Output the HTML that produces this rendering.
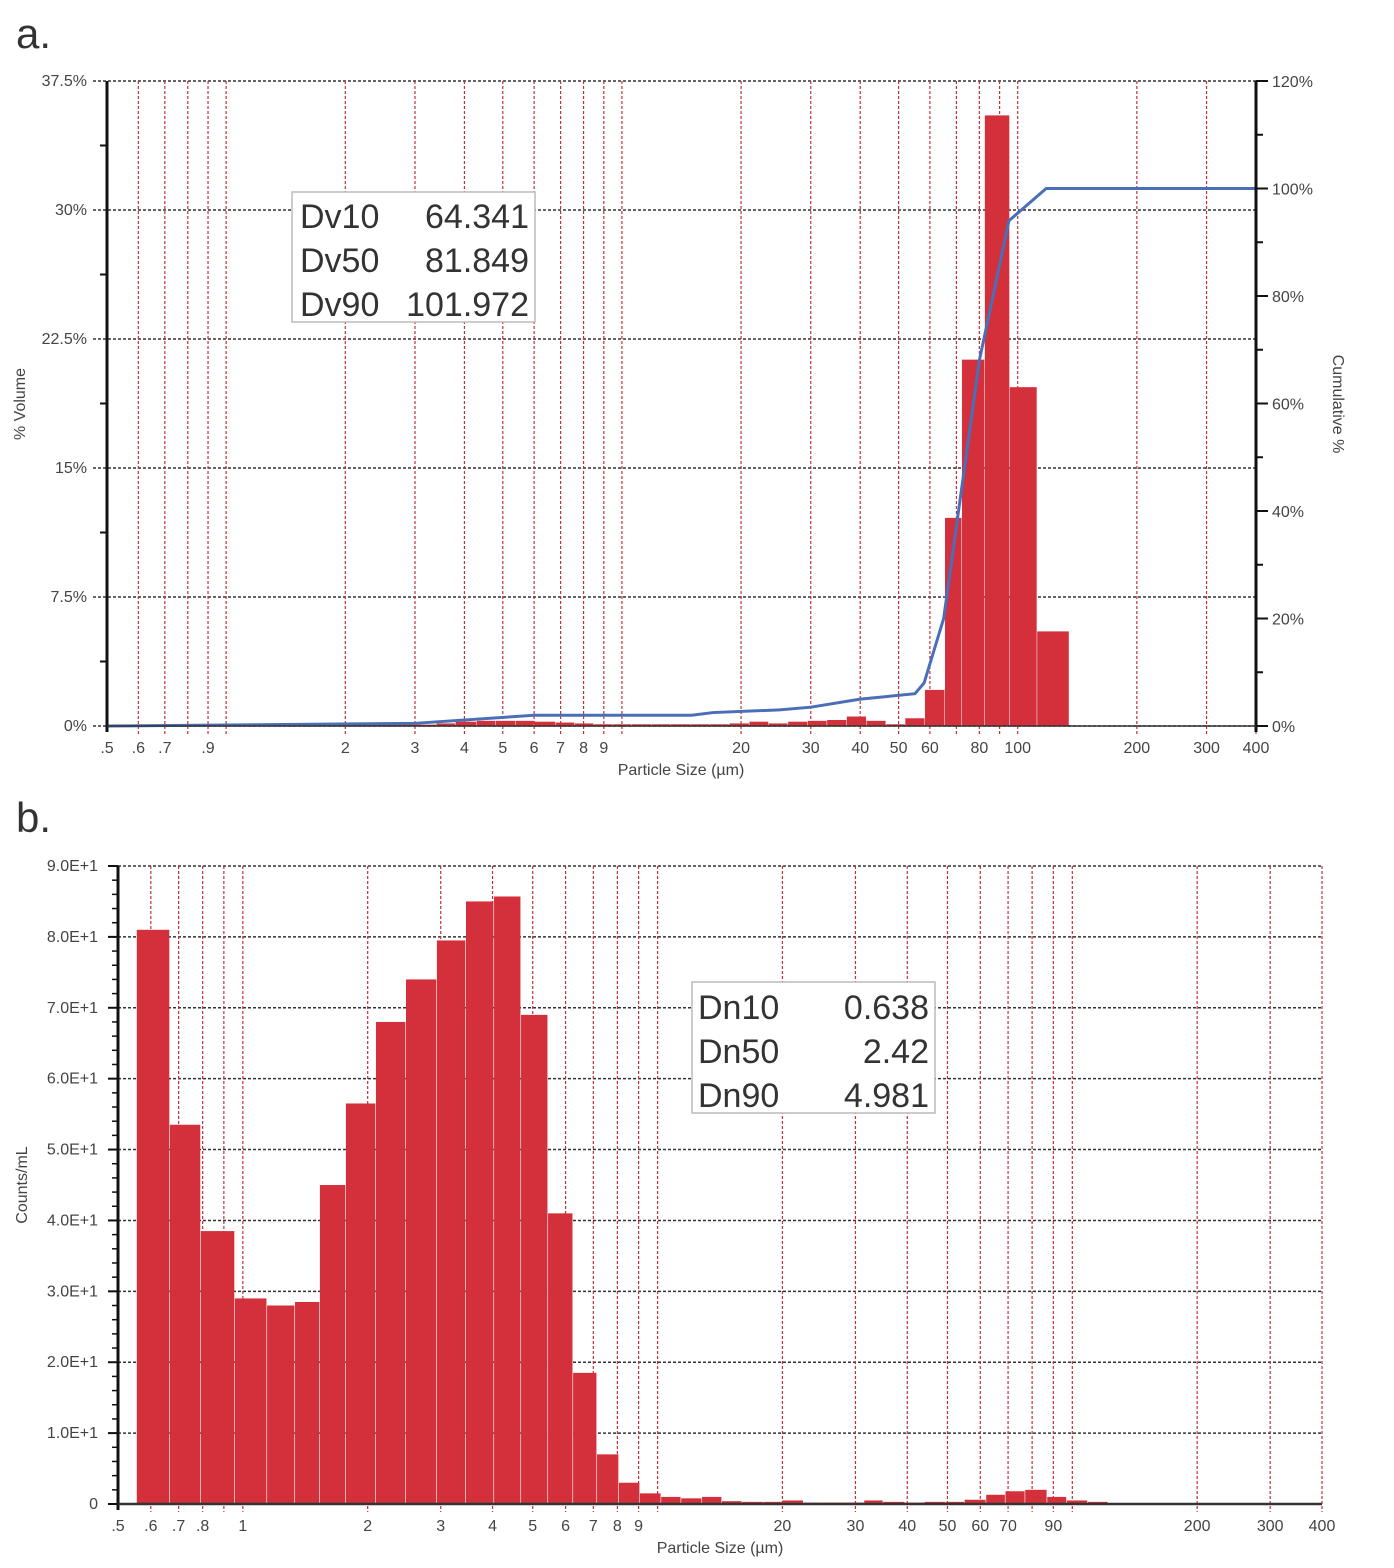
<!DOCTYPE html>
<html><head><meta charset="utf-8">
<style>
html,body{margin:0;padding:0;background:#fff;}
svg{display:block;}
text{font-family:"Liberation Sans Narrow","Liberation Sans",sans-serif;}
.tk{font-size:16px;fill:#444;}
.big{font-family:"Liberation Sans",sans-serif;font-size:34px;fill:#333;}
</style></head>
<body>
<svg id="svg" width="1394" height="1568" viewBox="0 0 1394 1568" xmlns="http://www.w3.org/2000/svg">
<text x="16" y="48" style="font-family:'Liberation Sans',sans-serif;font-size:42px;fill:#333">a.</text>
<text x="16" y="832" style="font-family:'Liberation Sans',sans-serif;font-size:42px;fill:#333">b.</text>
<g id="ga"></g>
<g id="gb"></g>
</svg>
<script>
// ---- Chart A data ----
const aEdges = [0.55,3.4,3.8,4.3,4.8,5.4,6.0,6.8,7.6,8.5,9.5,10.6,11.9,13.3,14.9,16.7,18.7,21,23.5,26.3,29.5,33,37,41.5,46.5,52,58.3,65.5,72.3,82.6,95.5,112,135];
const aValues = [0.08,0.15,0.25,0.3,0.3,0.3,0.25,0.2,0.15,0.1,0.1,0.1,0.1,0.1,0.1,0.1,0.15,0.25,0.15,0.25,0.3,0.35,0.55,0.3,0.1,0.45,2.1,12.1,21.3,35.5,19.7,5.5];
const aCumX = [0.5,3,6,15,17,25,30,40,55,58,65,80,95,118,400];
const aCumY = [0,0.5,2,2,2.5,3,3.5,5,6,8,20,68,94,100,100];
const aLeftTicks = ["0%","7.5%","15%","22.5%","30%","37.5%"];
const aLeftVals = [0,7.5,15,22.5,30,37.5];
const aRightTicks = ["0%","20%","40%","60%","80%","100%","120%"];
const aRightVals = [0,20,40,60,80,100,120];
const aXLabels = [".5",".6",".7",".9","2","3","4","5","6","7","8","9","20","30","40","50","60","80","100","200","300","400"];
const aXLabelVals = [0.5,0.6,0.7,0.9,2,3,4,5,6,7,8,9,20,30,40,50,60,80,100,200,300,400];
// ---- Chart B data ----
const bEdges = [0.555,0.667,0.792,0.957,1.144,1.336,1.534,1.772,2.094,2.474,2.937,3.452,4.034,4.686,5.444,6.256,7.145,8.07,9.07,10.2,11.4,12.8,14.3,16,18,20,22.5,25,28,31.5,35,39.5,44,49.5,55,62,69,77,87,97,109,122,137];
const bValues = [81,53.5,38.5,29,28,28.5,45,56.5,68,74,79.5,85,85.7,69,41,18.5,7,3,1.5,1,0.8,1,0.4,0.3,0.3,0.5,0.2,0.2,0.2,0.5,0.3,0.2,0.3,0.3,0.6,1.3,1.8,2,1,0.5,0.3,0.1];
const bYTicks = ["0","1.0E+1","2.0E+1","3.0E+1","4.0E+1","5.0E+1","6.0E+1","7.0E+1","8.0E+1","9.0E+1"];
const bYVals = [0,10,20,30,40,50,60,70,80,90];
const bXLabels = [".5",".6",".7",".8","1","2","3","4","5","6","7","8","9","20","30","40","50","60","70","90","200","300","400"];
const bXLabelVals = [0.5,0.6,0.7,0.8,1,2,3,4,5,6,7,8,9,20,30,40,50,60,70,90,200,300,400];
const gridVals = [0.6,0.7,0.8,0.9,1,2,3,4,5,6,7,8,9,10,20,30,40,50,60,70,80,90,100,200,300,400];

const NS="http://www.w3.org/2000/svg";
function mk(parent,tag,attrs){const e=document.createElementNS(NS,tag);for(const k in attrs)e.setAttribute(k,attrs[k]);parent.appendChild(e);return e;}

function logX(x0,x1){const l0=Math.log10(0.5),l1=Math.log10(400);return v=>x0+(Math.log10(v)-l0)/(l1-l0)*(x1-x0);}
function linY(y0,y1,vmax){return v=>y0-(v/vmax)*(y0-y1);}

// ===== Chart A =====
(function(){
const g=document.getElementById('ga');
const L=107,R=1256,T=81,B=726;
const X=logX(L,R), Y=linY(B,T,37.5), Y2=linY(B,T,120);
aLeftVals.forEach((v,i)=>{
  const ln=mk(g,'line',{x1:L-14,x2:R,y1:Y(v),y2:Y(v),stroke:'#333','stroke-width':1.5,'stroke-dasharray':'3,2'});
  
  
  const t=mk(g,'text',{x:L-20,y:Y(v)+5,'text-anchor':'end',class:'tk'});t.textContent=aLeftTicks[i];
  
  
  if(i<aLeftVals.length-1){mk(g,'line',{x1:L-7,x2:L,y1:Y(v+3.75),y2:Y(v+3.75),stroke:'#111','stroke-width':2});}
});
gridVals.forEach(v=>{
  const ln=mk(g,'line',{x1:X(v),x2:X(v),y1:T,y2:B+8,stroke:'#c0303a','stroke-width':1.2,'stroke-dasharray':'3,2'});
  
  
});
for(let i=0;i<aValues.length;i++){
  const x1=X(aEdges[i]),x2=X(aEdges[i+1]);
  const r=mk(g,'rect',{x:x1,y:Y(aValues[i]),width:Math.max(0,x2-x1-0.5),height:B-Y(aValues[i]),fill:'#d3303b'});
  
  
}
const pts=aCumX.map((v,i)=>X(v)+','+Y2(aCumY[i])).join(' ');
const pl=mk(g,'polyline',{points:pts,fill:'none',stroke:'#4a6fb8','stroke-width':3});


mk(g,'line',{x1:L,x2:L,y1:T,y2:B+6,stroke:'#111','stroke-width':3});
mk(g,'line',{x1:R,x2:R,y1:T,y2:B+6,stroke:'#111','stroke-width':3});
mk(g,'line',{x1:L,x2:R,y1:B,y2:B,stroke:'#333','stroke-width':1.5});
aRightVals.forEach((v,i)=>{
  mk(g,'line',{x1:R,x2:R+12,y1:Y2(v),y2:Y2(v),stroke:'#111','stroke-width':2});
  if(i<aRightVals.length-1){mk(g,'line',{x1:R,x2:R+7,y1:Y2(v+10),y2:Y2(v+10),stroke:'#111','stroke-width':2});}
  const t=mk(g,'text',{x:R+16,y:Y2(v)+6,class:'tk'});t.textContent=aRightTicks[i];
  
  
});
aXLabelVals.forEach((v,i)=>{
  const t=mk(g,'text',{x:X(v),y:B+27,'text-anchor':'middle',class:'tk'});t.textContent=aXLabels[i];
  
  
});
let t=mk(g,'text',{x:681,y:775,'text-anchor':'middle',class:'tk'});t.textContent='Particle Size (µm)';


t=mk(g,'text',{x:0,y:0,'text-anchor':'middle',class:'tk',transform:'translate(25,404) rotate(-90)'});t.textContent='% Volume';


t=mk(g,'text',{x:0,y:0,'text-anchor':'middle',class:'tk',transform:'translate(1333,404) rotate(90)'});t.textContent='Cumulative %';


const box=mk(g,'rect',{x:292,y:192,width:243,height:130,fill:'#fff',stroke:'#bbb','stroke-width':1.5});


[["Dv10","64.341"],["Dv50","81.849"],["Dv90","101.972"]].forEach((r,i)=>{
  let a=mk(g,'text',{x:300,y:228+i*44,class:'big'});a.textContent=r[0];
  
  
  a=mk(g,'text',{x:529,y:228+i*44,class:'big','text-anchor':'end'});a.textContent=r[1];
  
  
});
})();

// ===== Chart B =====
(function(){
const g=document.getElementById('gb');
const L=118,R=1322,T=866,B=1504;
const X=logX(L,R), Y=linY(B,T,90);
bYVals.forEach((v,i)=>{
  if(v>0){const ln=mk(g,'line',{x1:L-10,x2:R,y1:Y(v),y2:Y(v),stroke:'#333','stroke-width':1.5,'stroke-dasharray':'3,2'});
  
  }
  const t=mk(g,'text',{x:L-20,y:Y(v)+5,'text-anchor':'end',class:'tk'});t.textContent=bYTicks[i];
  
  
  mk(g,'line',{x1:L-10,x2:L,y1:Y(v),y2:Y(v),stroke:'#111','stroke-width':2});
  if(i<bYVals.length-1)for(let k=1;k<5;k++)mk(g,'line',{x1:L-6,x2:L,y1:Y(v+k*2),y2:Y(v+k*2),stroke:'#111','stroke-width':1.5});
});
gridVals.forEach(v=>{
  const ln=mk(g,'line',{x1:X(v),x2:X(v),y1:T,y2:B+8,stroke:'#c0303a','stroke-width':1.2,'stroke-dasharray':'3,2'});
  
  
});
for(let i=0;i<bValues.length;i++){
  const x1=X(bEdges[i]),x2=X(bEdges[i+1]);
  const r=mk(g,'rect',{x:x1,y:Y(bValues[i]),width:Math.max(0,x2-x1-0.6),height:B-Y(bValues[i]),fill:'#d3303b'});
  
  
}
mk(g,'line',{x1:L,x2:L,y1:T,y2:B+6,stroke:'#111','stroke-width':3});
mk(g,'line',{x1:L,x2:R,y1:B,y2:B,stroke:'#333','stroke-width':2.5});
bXLabelVals.forEach((v,i)=>{
  const t=mk(g,'text',{x:X(v),y:B+27,'text-anchor':'middle',class:'tk'});t.textContent=bXLabels[i];
  
  
});
let t=mk(g,'text',{x:720,y:1553,'text-anchor':'middle',class:'tk'});t.textContent='Particle Size (µm)';


t=mk(g,'text',{x:0,y:0,'text-anchor':'middle',class:'tk',transform:'translate(27,1185) rotate(-90)'});t.textContent='Counts/mL';


const box=mk(g,'rect',{x:692,y:982,width:243,height:131,fill:'#fff',stroke:'#bbb','stroke-width':1.5});


[["Dn10","0.638"],["Dn50","2.42"],["Dn90","4.981"]].forEach((r,i)=>{
  let a=mk(g,'text',{x:698,y:1019+i*44,class:'big'});a.textContent=r[0];
  
  
  a=mk(g,'text',{x:929,y:1019+i*44,class:'big','text-anchor':'end'});a.textContent=r[1];
  
  
});
})();
</script>
</body></html>
